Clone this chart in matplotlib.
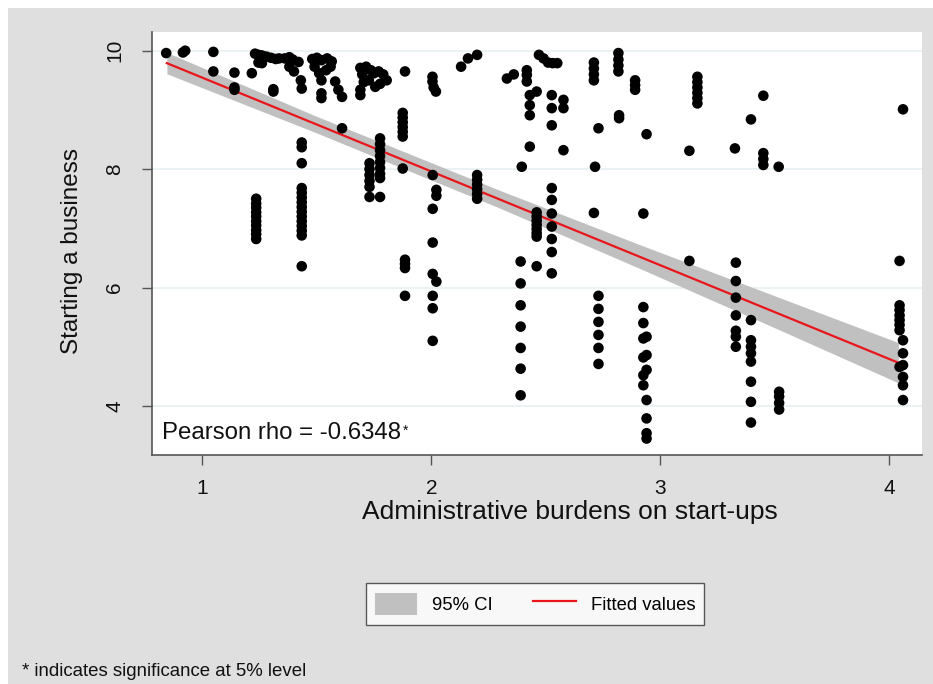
import numpy as np
import matplotlib
matplotlib.use("Agg")
import matplotlib.pyplot as plt
from matplotlib.patches import Rectangle, Patch
from matplotlib.lines import Line2D

plt.rcParams["font.family"] = ["Liberation Sans", "DejaVu Sans"]

# ---- observations: administrative burden score vs. starting-a-business score ----
burden = [
    0.842, 0.915, 0.925, 1.048, 1.048, 1.14, 1.14, 1.14,
    1.216, 1.23, 1.245, 1.26, 1.28, 1.30, 1.32, 1.335, 1.36, 1.38, 1.395, 1.42,
    1.245, 1.26,
    1.235, 1.235, 1.235, 1.235, 1.235, 1.235, 1.235, 1.235, 1.235, 1.235,
    1.31, 1.31, 1.38, 1.40, 1.43, 1.434,
    1.434, 1.434, 1.434, 1.434, 1.434, 1.434, 1.434, 1.434, 1.434, 1.434,
    1.434, 1.434, 1.434, 1.434, 1.434,
    1.48, 1.50, 1.52, 1.545, 1.565, 1.49, 1.51, 1.52, 1.54, 1.56,
    1.52, 1.52, 1.58, 1.594, 1.61, 1.61,
    1.69, 1.715, 1.736, 1.75, 1.77, 1.79, 1.805, 1.776, 1.755, 1.727, 1.698, 1.705,
    1.69, 1.69,
    1.776, 1.776, 1.776, 1.776, 1.776, 1.776, 1.776, 1.776, 1.776,
    1.73, 1.73, 1.73, 1.73, 1.73, 1.73,
    1.885, 1.875, 1.875, 1.875, 1.875, 1.875, 1.875, 1.875,
    1.885, 1.885, 1.885, 1.885,
    2.005, 2.005, 2.01, 2.02,
    2.006, 2.006, 2.006, 2.006, 2.006, 2.006, 2.006, 2.022, 2.022, 2.022,
    2.13, 2.16, 2.20,
    2.20, 2.20, 2.20, 2.20, 2.20, 2.20,
    2.33, 2.36,
    2.395, 2.39, 2.39, 2.39, 2.39, 2.39, 2.39, 2.39,
    2.417, 2.417, 2.417, 2.43, 2.43, 2.43, 2.43, 2.46,
    2.46, 2.46, 2.46, 2.46, 2.46, 2.46, 2.46, 2.46,
    2.47, 2.49, 2.51, 2.53, 2.55,
    2.526, 2.526, 2.526, 2.526, 2.526, 2.526, 2.526, 2.526, 2.526, 2.526,
    2.577, 2.577, 2.577,
    2.71, 2.71, 2.71, 2.71, 2.715, 2.71,
    2.73, 2.73, 2.73, 2.73, 2.73, 2.73, 2.73,
    2.817, 2.817, 2.817, 2.817, 2.82, 2.82,
    2.89, 2.89, 2.89, 2.94, 2.926,
    2.926, 2.926, 2.926, 2.926, 2.926, 2.926,
    2.94, 2.94, 2.94, 2.94, 2.94, 2.94, 2.94,
    3.127, 3.127,
    3.162, 3.162, 3.162, 3.162, 3.162, 3.162,
    3.326, 3.33, 3.33, 3.33, 3.33, 3.33, 3.33, 3.33,
    3.396, 3.396, 3.396, 3.396, 3.396, 3.396, 3.396, 3.396, 3.396,
    3.45, 3.45, 3.45, 3.45,
    3.517, 3.519, 3.519, 3.519, 3.519,
    4.06,
    4.045, 4.045, 4.045, 4.045, 4.045, 4.045, 4.045, 4.045,
    4.06, 4.06, 4.06, 4.06, 4.06, 4.06,
]
start = [
    9.96, 9.97, 10.0, 9.98, 9.65, 9.63, 9.38, 9.34,
    9.62, 9.95, 9.93, 9.92, 9.90, 9.88, 9.86, 9.87, 9.87, 9.89, 9.85, 9.81,
    9.80, 9.79,
    7.50, 7.42, 7.35, 7.27, 7.20, 7.12, 7.05, 6.97, 6.90, 6.82,
    9.35, 9.31, 9.73, 9.65, 9.50, 9.36,
    8.45, 8.37, 8.10, 7.68, 7.60, 7.52, 7.44, 7.36, 7.28, 7.20,
    7.12, 7.04, 6.96, 6.88, 6.36,
    9.86, 9.88, 9.84, 9.87, 9.82, 9.73, 9.62, 9.50, 9.67, 9.73,
    9.28, 9.20, 9.48, 9.34, 9.22, 8.69,
    9.71, 9.73, 9.67, 9.62, 9.65, 9.60, 9.50, 9.44, 9.39, 9.50, 9.60, 9.47,
    9.34, 9.25,
    8.52, 8.42, 8.32, 8.22, 8.12, 8.02, 7.92, 7.85, 7.53,
    8.10, 8.00, 7.90, 7.80, 7.70, 7.53,
    9.65, 8.95, 8.87, 8.79, 8.71, 8.63, 8.55, 8.01,
    6.47, 6.40, 6.33, 5.86,
    9.56, 9.48, 9.38, 9.31,
    7.90, 7.33, 6.76, 6.23, 5.86, 5.65, 5.10, 7.65, 7.55, 6.10,
    9.73, 9.87, 9.93,
    7.90, 7.82, 7.74, 7.66, 7.58, 7.50,
    9.53, 9.60,
    8.04, 6.44, 6.07, 5.70, 5.34, 4.98, 4.63, 4.18,
    9.67, 9.59, 9.48, 9.25, 9.08, 8.91, 8.38, 9.31,
    7.27, 7.20, 7.13, 7.06, 6.99, 6.92, 6.86, 6.36,
    9.93, 9.87, 9.80, 9.79, 9.79,
    9.25, 9.03, 8.74, 7.68, 7.48, 7.25, 7.03, 6.82, 6.60, 6.24,
    9.17, 9.03, 8.32,
    9.80, 9.70, 9.60, 9.50, 8.04, 7.26,
    8.69, 5.86, 5.64, 5.42, 5.20, 4.98, 4.71,
    9.96, 9.85, 9.75, 9.65, 8.91, 8.86,
    9.50, 9.42, 9.34, 8.59, 7.25,
    5.67, 5.40, 5.14, 4.82, 4.52, 4.35,
    5.17, 4.86, 4.61, 4.10, 3.79, 3.54, 3.45,
    8.31, 6.45,
    9.56, 9.47, 9.38, 9.29, 9.20, 9.11,
    8.35, 6.42, 6.11, 5.83, 5.53, 5.27, 5.17, 5.00,
    8.84, 5.45, 5.11, 5.00, 4.89, 4.75, 4.41, 4.07, 3.72,
    9.24, 8.27, 8.17, 8.07,
    8.04, 4.24, 4.16, 4.05, 3.94,
    9.01,
    6.45, 5.70, 5.62, 5.53, 5.45, 5.37, 5.28, 4.66,
    5.11, 4.89, 4.69, 4.49, 4.35, 4.10,
]

# fitted values (end points) and 95% CI band edges
fit_x = [0.845, 4.04]
fit_y = [9.79, 4.73]
ci_x = [0.845, 1.5, 2.3, 2.9, 3.5, 4.04]
ci_low = [9.61, 8.61, 7.34, 6.34, 5.32, 4.39]
ci_high = [9.97, 8.89, 7.64, 6.74, 5.86, 5.07]

x_ticks = [1, 2, 3, 4]
y_ticks = [4, 6, 8, 10]
x_title = "Administrative burdens on start-ups"
y_title = "Starting a business"
rho_text = "Pearson rho = -0.6348"
legend_labels = ["95% CI", "Fitted values"]
footnote = "* indicates significance at 5% level"

bg_gray = "#dfdfdf"
ci_gray = "#c0c0c0"
fit_red = "#e8161b"
axis_gray = "#555555"

# ---- figure ----
W, H = 933, 684
fig = plt.figure(figsize=(W / 100, H / 100), dpi=100, facecolor="white")
fig.add_artist(Rectangle((8 / W, 0), 1, (H - 8) / H, transform=fig.transFigure,
                         facecolor=bg_gray, edgecolor="none", zorder=-10))

ax = fig.add_axes([152 / W, 1 - 455 / H, 770 / W, 423 / H])
ax.set_facecolor("white")

ax.fill_between(ci_x, ci_low, ci_high, color=ci_gray, lw=0, zorder=1)
ax.plot(fit_x, fit_y, color=fit_red, lw=1.6, zorder=2)
ax.scatter(burden, start, s=58, color="black", edgecolors="none", zorder=3)

ax.set_xlim(0.78, 4.143)
ax.set_ylim(3.172, 10.316)
ax.set_xticks(x_ticks)
ax.set_yticks(y_ticks)
ax.yaxis.grid(True, color="#e8f0f1", lw=1.2)
ax.set_axisbelow(True)

for side in ["top", "right"]:
    ax.spines[side].set_visible(False)
for side in ["left", "bottom"]:
    ax.spines[side].set_color(axis_gray)
    ax.spines[side].set_linewidth(1.2)

ax.tick_params(axis="both", direction="out", length=7, width=1, color=axis_gray,
               labelsize=15, labelcolor="#111111")
ax.tick_params(axis="x", pad=10)
ax.tick_params(axis="y", pad=13, labelrotation=90)
for lbl in ax.get_yticklabels():
    lbl.set_va("center")

ax.set_xlabel(x_title, fontsize=19, color="#111111")
ax.xaxis.set_label_coords((569.5 - 152) / 770, (455 - 512) / 423)
ax.xaxis.label.set_va("center")
ax.set_ylabel(y_title, fontsize=17.5, color="#111111")
ax.yaxis.set_label_coords((72 - 152) / 770, (455 - 251.5) / 423)
ax.yaxis.label.set_va("center")

rho = ax.text((162 - 152) / 770, (455 - 433) / 423, rho_text, transform=ax.transAxes,
              fontsize=17.3, va="center", ha="left", color="#111111")
ax.annotate("*", xy=(1, 1), xycoords=rho, xytext=(1, -1), textcoords="offset points",
            fontsize=10, va="top", ha="left", color="#111111")

handles = [Patch(facecolor=ci_gray, edgecolor="none"),
           Line2D([], [], color=fit_red, lw=1.6)]
leg = fig.legend(handles, legend_labels, ncol=2, loc="center",
                 bbox_to_anchor=(535 / W, 1 - 604 / H), frameon=True, fancybox=False,
                 edgecolor="#333333", fontsize=13.3, handlelength=2.3, handleheight=1.5,
                 handletextpad=0.8, columnspacing=2.2, borderpad=0.5)
leg.get_frame().set_linewidth(1.0)

fig.text(22 / W, 1 - 672 / H, footnote, fontsize=13.4, va="center", ha="left",
         color="#111111")

fig.savefig("out.png", dpi=100, facecolor=fig.get_facecolor())
